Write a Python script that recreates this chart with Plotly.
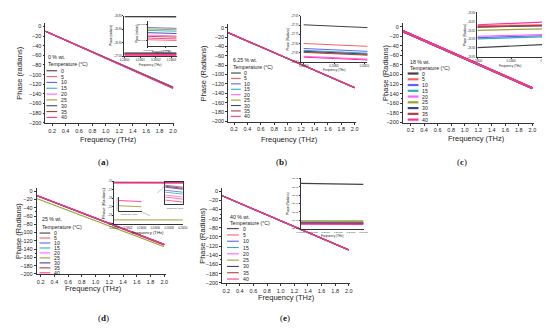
import plotly.graph_objects as go

W, H = 550, 328

temps = [0, 5, 10, 15, 20, 25, 30, 35, 40]
colors = ['#404040', '#ff6060', '#6060ff', '#30b0b0', '#ff60ff',
          '#a0a030', '#404090', '#b04040', '#ff3399']
x_ticks = [0.2, 0.4, 0.6, 0.8, 1.0, 1.2, 1.4, 1.6, 1.8, 2.0]
y_ticks = [0, -20, -40, -60, -80, -100, -120, -140, -160, -180, -200]

# ---- main panels: phase at the first and last frequency ----
freq_a = [0.10, 2.0]
a_start = [-9.8, -10.0, -10.0, -10.0, -10.0, -10.0, -10.0, -10.0, -10.2]
a_end = [-125.5, -128.3, -126.5, -127.0, -127.8, -126.8, -127.3, -128.0, -128.8]

freq_b = [0.10, 2.0]
b_start = [-10.0, -10.0, -10.0, -10.0, -10.0, -10.0, -10.0, -10.0, -10.0]
b_end = [-127.6, -128.0, -128.1, -128.1, -128.2, -128.1, -128.2, -128.1, -128.3]

freq_c = [0.08, 2.0]
c_start = [-9.0, -9.0, -9.0, -9.0, -9.0, -9.0, -9.0, -9.0, -9.0]
c_end = [-128.8, -128.5, -128.7, -128.7, -128.6, -128.6, -128.5, -128.5, -128.4]

freq_d = [0.14, 2.0]
d_start = [-10.2, -10.4, -10.2, -10.2, -10.2, -17.5, -10.2, -10.3, -10.0]
d_end = [-128.7, -130.8, -128.8, -128.8, -128.6, -134.5, -128.9, -129.6, -128.2]

freq_e = [0.14, 2.0]
e_start = [-10.0, -10.0, -10.0, -10.0, -10.0, -10.0, -10.0, -10.0, -10.0]
e_end = [-127.8, -128.6, -128.5, -128.6, -128.6, -128.5, -128.4, -128.1, -128.6]

# ---- insets ----
ina_freq = [0.24600, 0.246033]
ina_start = [-26.852, -26.9948, -26.9872, -26.9890, -26.9919, -26.9881, -26.9904, -26.9927, -26.9938]
ina_end = [-26.853, -26.9953, -26.9877, -26.9895, -26.9924, -26.9886, -26.9909, -26.9932, -26.9943]

insa_freq = [0.24600, 0.246033]
insa_start = [-26.852, -26.9948, -26.9872, -26.9890, -26.9919, -26.9881, -26.9904, -26.9927, -26.9938]
insa_end = [-26.853, -26.9953, -26.9877, -26.9895, -26.9924, -26.9886, -26.9909, -26.9932, -26.9943]

inb_freq = [0.24800, 0.24811]
inb_start = [-27.698, -27.799, -27.826, -27.836, -27.868, -27.844, -27.841, -27.847, -27.873]
inb_end = [-27.714, -27.815, -27.842, -27.852, -27.884, -27.860, -27.857, -27.863, -27.889]

inc_freq = [0.24600, 0.24610]
inc_start = [-26.8392, -26.8144, -26.8278, -26.8292, -26.8263, -26.8197, -26.8159, -26.8156, -26.8133]
inc_end = [-26.8356, -26.8133, -26.8256, -26.8270, -26.8244, -26.8178, -26.8144, -26.8139, -26.8103]

ind_freq = [0.24600, 0.24610]
ind_start = [-15.245, -15.336, -15.273, -15.291, -15.318, -24.10, -15.236, -15.227, -15.364]
ind_end = [-15.264, -15.355, -15.291, -15.309, -15.336, -24.12, -15.255, -15.245, -15.382]

indr_freq = [0.246085, 0.246100]
indr_temps = [0, 5, 10, 15, 20, 30, 35, 40]
indr_start = [-15.245, -15.336, -15.273, -15.291, -15.318, -15.236, -15.227, -15.364]
indr_end = [-15.264, -15.355, -15.291, -15.309, -15.336, -15.255, -15.245, -15.382]

indl_freq = [0.246000, 0.246040]
indl_temps = [25, 40]
indl_start = [-15.3575, -15.3500]
indl_end = [-15.3590, -15.3515]

ine_freq = [0.24600, 0.24610]
ine_start = [-26.659, -27.129, -27.129, -27.118, -27.141, -27.106, -27.135, -27.133, -27.147]
ine_end = [-26.671, -27.131, -27.131, -27.120, -27.143, -27.108, -27.137, -27.135, -27.149]

FONT = 'Arial'
AXC = '#333333'

fig = go.Figure()
layout = dict(width=W, height=H, margin=dict(l=0, r=0, t=0, b=0),
              paper_bgcolor='white', plot_bgcolor='rgba(0,0,0,0)',
              showlegend=False)
annotations = []
shapes = []


def px2x(p):
    return p / W


def px2y(p):
    return 1 - p / H


def add_axes(i, box, xr, yr, xtv=None, ytv=None, tfs=5.5, xfmt=None, yfmt=None,
             ticklen=2, minor=True, mirror=False, lw=0.8):
    x0, x1, yt, yb = box
    xa = dict(domain=[px2x(x0), px2x(x1)], range=xr, anchor='y%d' % i,
              showline=True, linecolor=AXC, linewidth=lw, mirror=mirror,
              showgrid=False, zeroline=False, ticks='outside', ticklen=ticklen,
              tickwidth=0.6, tickcolor=AXC, tickangle=0,
              tickfont=dict(family=FONT, size=tfs, color='#222'), ticklabelstandoff=0)
    ya = dict(domain=[px2y(yb), px2y(yt)], range=yr, anchor='x%d' % i,
              showline=True, linecolor=AXC, linewidth=lw, mirror=mirror,
              showgrid=False, zeroline=False, ticks='outside', ticklen=ticklen,
              tickwidth=0.6, tickcolor=AXC,
              tickfont=dict(family=FONT, size=tfs, color='#222'), ticklabelstandoff=0)
    if xtv is not None:
        xa['tickvals'] = xtv
    if ytv is not None:
        ya['tickvals'] = ytv
    if xfmt:
        xa['tickformat'] = xfmt
    if yfmt:
        ya['tickformat'] = yfmt
    if minor:
        xa['minor'] = dict(ticks='outside', ticklen=1, tickwidth=0.5, tickcolor=AXC, nticks=2)
        ya['minor'] = dict(ticks='outside', ticklen=1, tickwidth=0.5, tickcolor=AXC, nticks=2)
    layout['xaxis' if i == 1 else 'xaxis%d' % i] = xa
    layout['yaxis' if i == 1 else 'yaxis%d' % i] = ya


def add_lines(i, freq, starts, ends, width, temps_sel=None):
    sel = temps_sel if temps_sel is not None else temps
    for k, t in enumerate(sel):
        ci = temps.index(t)
        fig.add_trace(go.Scatter(x=freq, y=[starts[k], ends[k]], mode='lines',
                                 line=dict(color=colors[ci], width=width),
                                 xaxis='x%d' % i, yaxis='y%d' % i,
                                 name='%d' % t, hoverinfo='skip'))


def text(x, y, s, size, rot=0, xanchor='center', family=FONT, color='#222'):
    annotations.append(dict(x=px2x(x), y=px2y(y), xref='paper', yref='paper',
                            text=s, showarrow=False, textangle=rot,
                            xanchor=xanchor, yanchor='middle',
                            font=dict(family=family, size=size, color=color)))


legend_titles = ['0 % wt.', '6.25 % wt.', '18 % wt.', '25 % wt.', '40 % wt.']


def main_panel(i, p0, p200, xl, x2, xs, freq, starts, ends, width,
               ytitle, ytx, xtitle_pos, label, label_pos, legend, lw_leg):
    s = (p200 - p0) / 200.0
    yt = p0 - 8 * s
    yb = p200 + 1 * s
    sx = (x2 - xl) / (2.0 - xs)
    x1 = x2 + 0.02 * sx
    add_axes(i, (xl, x1, yt, yb), [xs, 2.02], [-201, 8], xtv=x_ticks, ytv=y_ticks,
             xfmt='.1f')
    add_lines(i, freq, starts, ends, width)
    text(ytx, (yt + yb) / 2, ytitle, 7.5, rot=-90)
    text(xtitle_pos[0], xtitle_pos[1], 'Frequency (THz)', 7.5)
    text(label_pos[0], label_pos[1], label, 9, family='Liberation Serif', color='#111')
    lx, ly_title, ly_temp, ly0, dy, sx0, sx1, tx = legend
    text(lx, ly_title, legend_titles[i - 1], 5.2, xanchor='left')
    text(lx, ly_temp, 'Temperature (°C)', 5.2, xanchor='left')
    for k, t in enumerate(temps):
        yy = ly0 + k * dy
        shapes.append(dict(type='line', xref='paper', yref='paper',
                           x0=px2x(sx0), x1=px2x(sx1), y0=px2y(yy), y1=px2y(yy),
                           line=dict(color=colors[k], width=lw_leg)))
        text(tx, yy, str(t), 5.2, xanchor='left')


main_panel(1, 16.7, 114.5, 33, 163, 0.10, freq_a, a_start, a_end, 1.1,
           'Phase (radians)', 7, (97, 132), '(<b>a</b>)', (92, 154),
           (33.5, 48, 55, 61.7, 5.92, 34, 45, 46.5), 1.1)
main_panel(2, 18, 113, 219, 348, 0.11, freq_b, b_start, b_end, 1.1,
           'Phase (Radians)', 194, (282, 131), '(<b>b</b>)', (273, 154),
           (222, 51, 58, 64, 5.5, 222, 232, 233.5), 1.1)
main_panel(3, 17, 114, 397, 529, 0.085, freq_c, c_start, c_end, 2.0,
           'Phase (Radians)', 380, (472, 130), '(<b>c</b>)', (457, 154),
           (402, 53, 58.5, 64.5, 5.85, 402, 413, 415), 2.2)
main_panel(4, 184, 268, 24, 154, 0.14, freq_d, d_start, d_end, 1.1,
           'Phase (Radians)', 5, (82, 283), '(<b>d</b>)', (92, 313),
           (27, 212, 220, 226.5, 5.05, 27, 38, 40), 1.1)
main_panel(5, 184, 277, 213, 342, 0.14, freq_e, e_start, e_end, 1.1,
           'Phase (Radians)', 193, (279, 292), '(<b>e</b>)', (277, 313),
           (219, 210, 216, 222, 6.4, 218, 230, 232), 1.1)

IFS = 3.0
ITF = 2.6

# inset (a) outer
add_axes(6, (113, 167, 6, 47), [0.2459995, 0.2460335], [-27.0, -26.85],
         xtv=[0.24600, 0.24601, 0.24602, 0.24603], ytv=[-27.0, -26.95, -26.9, -26.85],
         tfs=ITF, xfmt='.5f', yfmt='.2f', ticklen=1, minor=False, lw=0.5)
add_lines(6, ina_freq, ina_start, ina_end, 1.6)
text(99, 26, 'Phase (radians)', IFS, rot=-90)
text(140, 56, 'Frequency (THz)', IFS)

# inset (a) sub
add_axes(7, (137, 167, 11, 37), [0.2459995, 0.2460335], [-26.999, -26.983],
         xtv=[0.24600, 0.24602], ytv=[-26.995, -26.985],
         tfs=2.4, xfmt='.5f', yfmt='.3f', ticklen=1, minor=False, lw=0.5)
add_lines(7, insa_freq, insa_start, insa_end, 0.9)
text(125.5, 24, 'Phase (radians)', 2.6, rot=-90)
text(152, 43, 'Frequency (THz)', 2.6)

# inset (b)
add_axes(8, (293, 361, 6, 53), [0.247995, 0.248105], [-27.9, -27.65],
         xtv=[0.24800, 0.24805, 0.24810], ytv=[-27.9, -27.85, -27.8, -27.75, -27.7, -27.65],
         tfs=ITF, xfmt='.5f', yfmt='.2f', ticklen=1, minor=False, lw=0.5)
add_lines(8, inb_freq, inb_start, inb_end, 1.0)
text(280, 30, 'Phase (Radians)', IFS, rot=-90)
text(327, 61, 'Frequency (THz)', IFS)

# inset (c)
add_axes(9, (473, 542, 3, 48), [0.24600, 0.24610], [-26.85, -26.80],
         xtv=[0.24600, 0.24605, 0.24610], ytv=[-26.85, -26.84, -26.83, -26.82, -26.81, -26.80],
         tfs=ITF, xfmt='.5f', yfmt='.2f', ticklen=1, minor=False, lw=0.5)
add_lines(9, inc_freq, inc_start, inc_end, 1.2)
text(460, 26, 'Phase (Radians)', IFS, rot=-90)
text(507, 57, 'Frequency (THz)', IFS)

# inset (d) outer
add_axes(10, (103, 173, 174, 217), [0.24600, 0.24610], [-25, -15],
         xtv=[0.24600, 0.24602, 0.24604, 0.24606, 0.24608, 0.24610], ytv=[-25, -23, -21, -19, -17, -15],
         tfs=ITF, xfmt='.5f', yfmt='.0f', ticklen=1, minor=False, lw=0.5)
add_lines(10, ind_freq, ind_start, ind_end, 1.0)
text(92, 196, 'Phase (Radians)', 4.2, rot=-90)
text(138, 226, 'Frequency (THz)', 4.2)

# inset (d) right sub
add_axes(11, (155, 173, 175, 197), [0.246085, 0.246100], [-15.40, -15.20],
         xtv=[], ytv=[], tfs=2.2, ticklen=1, minor=False, mirror=True, lw=0.4)
add_lines(11, indr_freq, indr_start, indr_end, 0.8, temps_sel=indr_temps)
text(165, 201, 'Frequency (THz)', 2.2)

# inset (d) left sub
add_axes(12, (108, 131, 190, 204), [0.246000, 0.246040], [-15.365, -15.345],
         xtv=[], ytv=[], tfs=2.2, ticklen=1, minor=False, lw=0.4)
add_lines(12, indl_freq, indl_start, indl_end, 0.9, temps_sel=indl_temps)
text(119, 207, 'Frequency (THz)', 2.2)

# inset (e)
add_axes(13, (293, 357, 171, 222), [0.24600, 0.24610], [-27.2, -26.6],
         xtv=[0.24600, 0.24602, 0.24604, 0.24606, 0.24608, 0.24610],
         ytv=[-27.2, -27.1, -27.0, -26.9, -26.8, -26.7, -26.6],
         tfs=2.4, xfmt='.5f', yfmt='.2f', ticklen=1, minor=False, lw=0.5)
add_lines(13, ine_freq, ine_start, ine_end, 1.2)
text(280, 197, 'Phase (Radians)', IFS, rot=-90)
text(325, 230, 'Frequency (THz)', IFS)

# connectors in inset (d)
for (xa0, ya0, xa1, ya1) in [(147, 186, 155, 178), (131, 205, 140, 209), (106, 190, 106, 204)]:
    shapes.append(dict(type='line', xref='paper', yref='paper',
                       x0=px2x(xa0), y0=px2y(ya0), x1=px2x(xa1), y1=px2y(ya1),
                       line=dict(color='#888888', width=0.5)))

layout['annotations'] = annotations
layout['shapes'] = shapes
fig.update_layout(**layout)
fig.write_html('out.html')
